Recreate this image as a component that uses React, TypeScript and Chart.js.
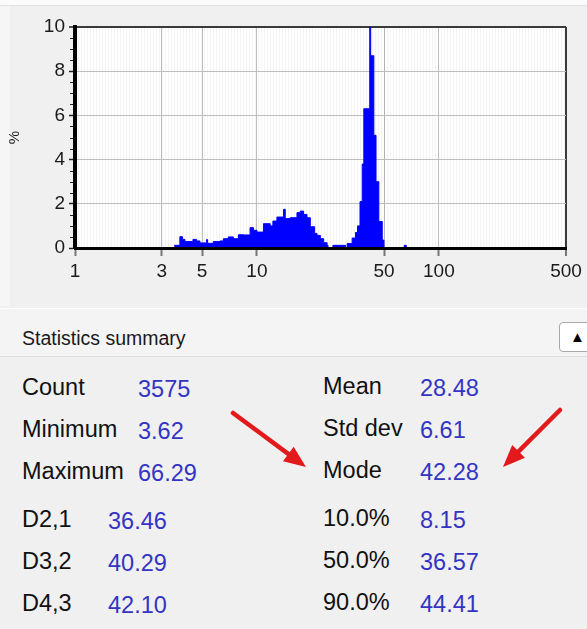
import React, { useEffect, useRef } from 'react';
import { Chart, registerables } from 'chart.js';

Chart.register(...registerables);

// ---------- data ----------
// histogram bin edges (particle size, log axis) and % in each bin
const BIN_EDGES = [
  3.51, 3.77, 3.90, 4.02, 4.45, 4.66, 4.86, 5.29, 5.36, 5.76,
  6.27, 6.54, 6.96, 7.42, 7.91, 8.43, 9.17, 9.57, 10.0, 10.86,
  11.83, 12.24, 12.88, 14.01, 14.31, 15.25, 16.60, 17.31, 18.05, 18.85,
  19.66, 20.76, 21.40, 22.32, 23.27, 24.30, 24.61, 26.16, 30.65, 31.32,
  33.38, 34.81, 35.71, 36.87, 37.91, 38.69, 41.70, 42.20, 43.92, 45.16,
  46.79, 48.85, 49.90, 64.5, 66.3,
];
const PERCENT = [
  0.12, 0.51, 0.39, 0.29, 0.39, 0.32, 0.23, 0.38, 0.21, 0.29,
  0.32, 0.42, 0.50, 0.42, 0.60, 0.59, 0.92, 0.80, 0.72, 1.10,
  1.00, 1.22, 1.40, 1.75, 1.33, 1.37, 1.60, 1.67, 1.52, 1.37,
  0.96, 0.66, 0.57, 0.42, 0.24, 0.12, 0, 0.12, 0, 0.2,
  0.45, 0.7, 1.0, 2.1, 3.8, 6.3, 10.4, 8.7, 5.1, 3.0,
  1.2, 0.36, 0, 0.12,
];
const X_MAJOR_TICKS = [1, 3, 5, 10, 50, 100, 500];
const Y_MAJOR_TICKS = [0, 2, 4, 6, 8, 10];
const Y_LABEL = '%';

const HEADER_TEXT = 'Statistics summary';
const STAT_LEFT_LABELS = ['Count', 'Minimum', 'Maximum', 'D2,1', 'D3,2', 'D4,3'];
const STAT_LEFT_VALUES = ['3575', '3.62', '66.29', '36.46', '40.29', '42.10'];
const STAT_RIGHT_LABELS = ['Mean', 'Std dev', 'Mode', '10.0%', '50.0%', '90.0%'];
const STAT_RIGHT_VALUES = ['28.48', '6.61', '42.28', '8.15', '36.57', '44.41'];

// ---------- layout ----------
const W = 587;
const H = 629;
const CANVAS_H = 306;
const ROW_Y = [387, 429, 471, 519, 561, 603];
const LEFT_VALUE_X = [138, 138, 138, 108, 108, 108];
const FONT = '"Liberation Sans", Arial, sans-serif';
const BLUE = '#0000ff';
const VALUE_COLOR = '#3434c4';

function buildXTicks(): number[] {
  const set: number[] = [...X_MAJOR_TICKS];
  const step = 0.0165;
  for (let k = 1; Math.pow(10, k * step) < 500; k++) {
    set.push(Math.pow(10, k * step));
  }
  return set.sort((a, b) => a - b);
}

const plotBg = {
  id: 'plotBg',
  beforeDraw(chart: any) {
    const { ctx, chartArea } = chart;
    ctx.save();
    ctx.fillStyle = '#ffffff';
    ctx.fillRect(chartArea.left, chartArea.top, chartArea.right - chartArea.left, chartArea.bottom - chartArea.top);
    ctx.restore();
  },
};

const minorYTicks = {
  id: 'minorYTicks',
  afterDraw(chart: any) {
    const { ctx, chartArea } = chart;
    const y = chart.scales.y;
    ctx.save();
    ctx.strokeStyle = '#222';
    ctx.lineWidth = 1;
    for (let v = 0.5; v < 10; v += 0.5) {
      if (Y_MAJOR_TICKS.includes(v)) continue;
      const py = Math.round(y.getPixelForValue(v)) + 0.5;
      ctx.beginPath();
      ctx.moveTo(chartArea.left - 5, py);
      ctx.lineTo(chartArea.left - 2, py);
      ctx.stroke();
    }
    ctx.restore();
  },
};

function Arrow({ x1, y1, x2, y2 }: { x1: number; y1: number; x2: number; y2: number }) {
  const dx = x2 - x1;
  const dy = y2 - y1;
  const len = Math.hypot(dx, dy);
  const ux = dx / len;
  const uy = dy / len;
  const head = 22;
  const half = 9;
  const bx = x2 - ux * head;
  const by = y2 - uy * head;
  const px = -uy * half;
  const py = ux * half;
  const pts = `${x2},${y2} ${bx + px},${by + py} ${bx - px},${by - py}`;
  return (
    <g>
      <line x1={x1} y1={y1} x2={bx + ux * 2} y2={by + uy * 2} stroke="#e3191c" strokeWidth={4.5} strokeLinecap="round" />
      <polygon points={pts} fill="#e3191c" />
    </g>
  );
}

export default function App() {
  const canvasRef = useRef<HTMLCanvasElement | null>(null);

  useEffect(() => {
    document.body.style.margin = '0';
    const canvas = canvasRef.current;
    if (!canvas) return;
    const points = PERCENT.map((p, i) => ({ x: BIN_EDGES[i], y: p }));
    points.push({ x: BIN_EDGES[BIN_EDGES.length - 1], y: 0 });
    const xTicks = buildXTicks();
    const isMajorX = (v: number) => X_MAJOR_TICKS.some((m) => Math.abs(m - v) < 1e-9);

    const chart = new Chart(canvas, {
      type: 'line',
      data: {
        datasets: [
          {
            data: points,
            stepped: 'before',
            fill: 'origin',
            backgroundColor: BLUE,
            borderColor: BLUE,
            borderWidth: 1,
            pointRadius: 0,
            tension: 0,
          },
        ],
      },
      options: {
        animation: false,
        responsive: false,
        devicePixelRatio: 1,
        layout: { padding: { top: 27, right: 21, left: 0, bottom: 0 } },
        plugins: { legend: { display: false }, tooltip: { enabled: false } },
        scales: {
          x: {
            type: 'logarithmic',
            min: 1,
            max: 500,
            afterBuildTicks: (scale: any) => {
              scale.ticks = xTicks.map((v) => ({ value: v }));
            },
            afterFit: (scale: any) => {
              scale.height = 58;
            },
            ticks: {
              autoSkip: false,
              maxRotation: 0,
              minRotation: 0,
              padding: 4,
              color: '#1a1a1a',
              font: { family: FONT, size: 19 },
              callback: (value: any) => (isMajorX(Number(value)) ? String(value) : ''),
            },
            grid: {
              color: (ctx: any) => {
                const v = ctx.tick ? ctx.tick.value : null;
                if (v === null) return '#bdbdbd';
                if (Math.abs(v - 500) < 1e-9) return '#3a3a3a';
                return isMajorX(v) ? '#bdbdbd' : 'rgba(0,0,0,0.045)';
              },
              lineWidth: (ctx: any) => {
                const v = ctx.tick ? ctx.tick.value : null;
                return v !== null && Math.abs(v - 500) < 1e-9 ? 2 : 1;
              },
              tickColor: (ctx: any) => {
                const v = ctx.tick ? ctx.tick.value : null;
                return v !== null && isMajorX(v) ? '#777777' : 'rgba(0,0,0,0)';
              },
              tickLength: 8,
              tickWidth: 2,
            },
            border: { display: true, color: '#000000', width: 3, z: 1 },
          },
          y: {
            min: 0,
            max: 10,
            afterFit: (scale: any) => {
              scale.width = 75;
            },
            ticks: {
              stepSize: 2,
              padding: 4,
              color: '#1a1a1a',
              font: { family: FONT, size: 19 },
            },
            grid: {
              color: (ctx: any) => (ctx.tick && ctx.tick.value === 10 ? '#3a3a3a' : '#bdbdbd'),
              lineWidth: (ctx: any) => (ctx.tick && ctx.tick.value === 10 ? 2 : 1),
              tickColor: '#222222',
              tickLength: 6,
              tickWidth: 1.5,
            },
            border: { display: true, color: '#000000', width: 4, z: 1 },
            title: {
              display: true,
              text: Y_LABEL,
              color: '#222',
              font: { family: FONT, size: 15 },
              padding: { top: 6, bottom: 0 },
            },
          },
        },
      } as any,
      plugins: [plotBg, minorYTicks],
    });
    return () => chart.destroy();
  }, []);

  const textBase: React.CSSProperties = {
    position: 'absolute',
    fontFamily: FONT,
    fontSize: '23.5px',
    lineHeight: '28px',
    height: 28,
    whiteSpace: 'nowrap',
  };

  return (
    <div
      style={{
        position: 'absolute',
        left: 0,
        top: 0,
        width: W,
        height: H,
        background: '#f0f0f0',
        overflow: 'hidden',
        fontFamily: FONT,
      }}
    >
      <div style={{ position: 'absolute', left: 0, top: 0, width: W, height: 5, background: '#fbfbfb', borderBottom: '1px solid #e2e2e2' }} />
      <div style={{ position: 'absolute', left: 0, top: 6, width: 10, height: 300, background: '#f6f6f6' }} />
      <canvas
        ref={canvasRef}
        width={W}
        height={CANVAS_H}
        style={{ position: 'absolute', left: 0, top: 0, width: W, height: CANVAS_H }}
      />
      {/* statistics header */}
      <div
        style={{
          position: 'absolute',
          left: 0,
          top: 308,
          width: W,
          height: 47,
          background: '#f4f4f4',
          borderTop: '1px solid #fdfdfd',
          borderBottom: '1px solid #dcdcdc',
        }}
      />
      <div
        style={{
          position: 'absolute',
          left: 22,
          top: 325,
          fontSize: '19.5px',
          lineHeight: '26px',
          color: '#1a1a1a',
          fontFamily: FONT,
        }}
      >
        {HEADER_TEXT}
      </div>
      <div
        style={{
          position: 'absolute',
          left: 559,
          top: 322,
          width: 40,
          height: 30,
          background: '#ffffff',
          border: '1px solid #a8a8a8',
          borderRadius: 4,
          boxSizing: 'border-box',
        }}
      >
        <div style={{ position: 'absolute', left: 10, top: 4, fontSize: '15px', lineHeight: '20px', color: '#000' }}>▲</div>
      </div>
      {STAT_LEFT_LABELS.map((lab, i) => (
        <div key={'ll' + i} style={{ ...textBase, left: 22, top: ROW_Y[i] - 14, color: '#111' }}>
          {lab}
        </div>
      ))}
      {STAT_LEFT_VALUES.map((val, i) => (
        <div key={'lv' + i} style={{ ...textBase, left: LEFT_VALUE_X[i], top: ROW_Y[i] - 12, color: VALUE_COLOR }}>
          {val}
        </div>
      ))}
      {STAT_RIGHT_LABELS.map((lab, i) => (
        <div key={'rl' + i} style={{ ...textBase, left: 323, top: ROW_Y[i] - 15, color: '#111' }}>
          {lab}
        </div>
      ))}
      {STAT_RIGHT_VALUES.map((val, i) => (
        <div key={'rv' + i} style={{ ...textBase, left: 420, top: ROW_Y[i] - 13, color: VALUE_COLOR }}>
          {val}
        </div>
      ))}
      <svg style={{ position: 'absolute', left: 0, top: 0 }} width={W} height={H}>
        <Arrow x1={233} y1={413} x2={306} y2={467} />
        <Arrow x1={560} y1={410} x2={503} y2={467} />
      </svg>
    </div>
  );
}
